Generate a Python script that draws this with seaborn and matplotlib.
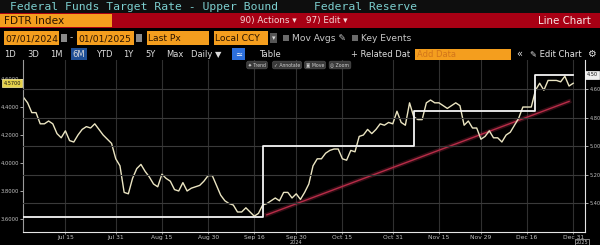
import numpy as np
import pandas as pd
import matplotlib
matplotlib.use("Agg")
import matplotlib.pyplot as plt
import seaborn as sns
from matplotlib.patches import Rectangle
from matplotlib.transforms import blended_transform_factory

# ------------------------------------------------------------------ data
start_date = "2024-07-01"
end_date = "2024-12-31"

# US 10Y yield (left axis), one value per weekday Jul 1 .. Dec 31 2024
ust10y_jul = [4.47, 4.43, 4.36, 4.36, 4.28, 4.28, 4.30, 4.28, 4.21, 4.18, 4.23, 4.16,
              4.15, 4.20, 4.24, 4.26, 4.25, 4.28, 4.24, 4.20, 4.17, 4.14, 4.03]
ust10y_aug = [3.98, 3.79, 3.78, 3.89, 3.96, 3.99, 3.94, 3.90, 3.85, 3.83, 3.92, 3.89,
              3.87, 3.81, 3.80, 3.86, 3.80, 3.82, 3.83, 3.84, 3.87, 3.91]
ust10y_sep = [3.91, 3.84, 3.77, 3.73, 3.71, 3.70, 3.65, 3.65, 3.68, 3.65, 3.62, 3.64,
              3.70, 3.71, 3.73, 3.75, 3.73, 3.79, 3.79, 3.75, 3.78]
ust10y_oct = [3.74, 3.79, 3.85, 3.98, 4.03, 4.03, 4.07, 4.09, 4.10, 4.10, 4.03, 4.02,
              4.09, 4.08, 4.19, 4.20, 4.24, 4.21, 4.24, 4.28, 4.27, 4.29, 4.28]
ust10y_nov = [4.37, 4.29, 4.27, 4.43, 4.33, 4.31, 4.31, 4.43, 4.45, 4.43, 4.43, 4.41,
              4.39, 4.41, 4.43, 4.41, 4.27, 4.30, 4.25, 4.25, 4.17]
ust10y_dec = [4.19, 4.23, 4.18, 4.18, 4.15, 4.20, 4.22, 4.27, 4.32, 4.40, 4.40, 4.40,
              4.52, 4.57, 4.52, 4.59, 4.59, 4.59, 4.58, 4.62, 4.55, 4.57]

# Fed funds target upper bound (right axis, inverted)
fdtr_change_dates = ["2024-07-01", "2024-09-18", "2024-11-07", "2024-12-18"]
fdtr_levels = [5.50, 5.00, 4.75, 4.50]

# hand-drawn trend line (left axis units)
trend_dates = ["2024-09-19", "2024-12-30"]
trend_values = [3.63, 4.44]

tick_dates = ["2024-07-15", "2024-07-31", "2024-08-15", "2024-08-30", "2024-09-16",
              "2024-09-30", "2024-10-15", "2024-10-31", "2024-11-15", "2024-11-29",
              "2024-12-16", "2024-12-31"]
tick_labels = ["Jul 15", "Jul 31", "Aug 15", "Aug 30", "Sep 16", "Sep 30", "Oct 15",
               "Oct 31", "Nov 15", "Nov 29", "Dec 16", "Dec 31"]
left_ticks = [3.6, 3.8, 4.0, 4.2, 4.4, 4.6]
right_ticks = [4.6, 4.8, 5.0, 5.2, 5.4]

# ------------------------------------------------------------------ frame
dates = pd.bdate_range(start_date, end_date)
pos = {d: i for i, d in enumerate(dates)}
ust10y = ust10y_jul + ust10y_aug + ust10y_sep + ust10y_oct + ust10y_nov + ust10y_dec
fdtr = pd.Series(fdtr_levels, index=pd.to_datetime(fdtr_change_dates)).reindex(dates, method="ffill")
df = pd.DataFrame({"x": np.arange(len(dates)), "ust": ust10y, "fdtr": fdtr.values})
trend_df = pd.DataFrame({"x": [pos[pd.Timestamp(d)] for d in trend_dates], "y": trend_values})

W, H = 600, 245
fig = plt.figure(figsize=(W / 100, H / 100), dpi=100, facecolor="black")

# plot area in pixel terms: x 23..585, y 60..232
L, R, T, B = 23, 585, 60, 232
ax = fig.add_axes([L / W, 1 - B / H, (R - L) / W, (B - T) / H])
ax.set_facecolor("black")
ax2 = ax.twinx()
ax2.set_facecolor("none")

GRID = "#3a3a3a"
TXT = "#c4c4c4"

sns.lineplot(data=trend_df, x="x", y="y", ax=ax, color="#c0304e", lw=3.2, alpha=0.25)
sns.lineplot(data=trend_df, x="x", y="y", ax=ax, color="#b82c48", lw=1.0)
sns.lineplot(data=df, x="x", y="ust", ax=ax, color="#ebe5c2", lw=1.0)
sns.lineplot(data=df, x="x", y="fdtr", ax=ax2, color="#f4f4f4", lw=1.3, drawstyle="steps-post")

ax.set_xlim(-0.1, 133.8)
ax.set_ylim(3.507, 4.736)
ax2.set_ylim(5.602, 4.395)

ax.set_xticks([pos[pd.Timestamp(d)] for d in tick_dates])
ax.set_xticklabels(tick_labels)
ax.set_yticks(left_ticks)
ax.set_yticklabels([f"{v:.4f}" for v in left_ticks])
ax2.set_yticks(right_ticks)
ax2.set_yticklabels([f"{v:.2f}" for v in right_ticks])
ax.set_xlabel("")
ax.set_ylabel("")
ax2.set_ylabel("")

ax.xaxis.grid(True, color="#303030", lw=0.8)
ax.yaxis.grid(False)
ax2.yaxis.grid(True, color=GRID, lw=0.8)
ax2.xaxis.grid(False)
ax.set_axisbelow(True)

ax.tick_params(axis="x", colors=TXT, labelsize=4.3, length=1.2, width=0.5, pad=0.8)
ax.tick_params(axis="y", colors=TXT, labelsize=3.8, length=2, width=0.6, pad=1)
ax2.tick_params(axis="y", colors=TXT, labelsize=3.6, length=2, width=0.6, pad=1.5)

for a in (ax, ax2):
    a.spines["top"].set_visible(False)
ax.spines["right"].set_visible(False)
ax.spines["left"].set_color("#9a9a9a")
ax.spines["bottom"].set_color("#e6e6e6")
ax2.spines["left"].set_visible(False)
ax2.spines["bottom"].set_visible(False)
ax2.spines["right"].set_color("#e6e6e6")
for s in ("left", "bottom"):
    ax.spines[s].set_linewidth(0.8)
ax2.spines["right"].set_linewidth(0.8)

# value tags
bl = blended_transform_factory(ax.transAxes, ax.transData)
ax.text(-0.004, ust10y[-1], f"{ust10y[-1]:.4f}", transform=bl, ha="right", va="center",
        fontsize=3.6, color="#111111", clip_on=False, zorder=10,
        bbox=dict(boxstyle="square,pad=0.25", fc="#e6d24a", ec="#fff3a0", lw=0.5))
br = blended_transform_factory(ax2.transAxes, ax2.transData)
ax2.text(1.003, fdtr_levels[-1], f"{fdtr_levels[-1]:.2f}", transform=br, ha="left", va="center",
         fontsize=3.6, color="#111111", clip_on=False, zorder=10,
         bbox=dict(boxstyle="square,pad=0.3", fc="#f0f0f0", ec="#ffffff", lw=0.5))

# year labels under axis
bx = blended_transform_factory(ax.transData, ax.transAxes)
ax.text(pos[pd.Timestamp("2024-09-30")], -0.047, "2024", transform=bx, ha="center", va="top",
        fontsize=3.6, color=TXT, clip_on=False)
ax.text(pos[pd.Timestamp("2024-12-31")] + 2.0, -0.047, "2025", transform=bx, ha="center", va="top",
        fontsize=3.6, color=TXT, clip_on=False,
        bbox=dict(boxstyle="square,pad=0.15", fc="black", ec="#bbbbbb", lw=0.5))

# small toolbar in chart
for cx, lab in [(257, "✦ Trend"), (287, "✓ Annotate"), (315, "▣ Move"), (340, "◎ Zoom")]:
    ax.text((cx - L) / (R - L), 1 - 5 / (B - T), lab, transform=ax.transAxes, ha="center",
            va="center", fontsize=3.3, color="#d0d0d0", zorder=10,
            bbox=dict(boxstyle="round,pad=0.3,rounding_size=0.4", fc="#3a3a3a", ec="#555555", lw=0.4))

# ------------------------------------------------------------------ header
hax = fig.add_axes([0, 1 - 60 / H, 1, 60 / H])
hax.set_xlim(0, 600)
hax.set_ylim(60, 0)
hax.axis("off")


def rect(x0, y0, x1, y1, fc, ec="none", lw=0):
    hax.add_patch(Rectangle((x0, y0), x1 - x0, y1 - y0, facecolor=fc, edgecolor=ec, lw=lw))


ORANGE = "#f49e1e"
DARK = "#2b1400"
rect(0, 0, 600, 13, "#0e0e0e")
rect(0, 13, 600, 28.5, "#a80014")
rect(0, 14, 112, 27.5, ORANGE)

hax.text(10, 7, "Federal Funds Target Rate - Upper Bound", family="DejaVu Sans Mono",
         fontsize=8.2, color="#7ccfcf", va="center", ha="left")
hax.text(314, 7, "Federal Reserve", family="DejaVu Sans Mono",
         fontsize=8.2, color="#7ccfcf", va="center", ha="left")

hax.text(4, 21, "FDTR Index", fontsize=7.6, color=DARK, va="center", ha="left")
hax.text(240, 21, "90) Actions ▾", fontsize=6.3, color="#f6d6d6", va="center", ha="left")
hax.text(306, 21, "97) Edit ▾", fontsize=6.3, color="#f6d6d6", va="center", ha="left")
hax.text(591, 21, "Line Chart", fontsize=7.4, color="#f8e6e6", va="center", ha="right")

# row 3
y3a, y3b = 31, 45
for x0, x1, lab in [(4, 59, "07/01/2024"), (77, 134, "01/01/2025"),
                    (147, 209, "Last Px"), (214, 268, "Local CCY")]:
    rect(x0, y3a, x1, y3b, ORANGE)
    hax.text(x0 + 1, 38.5, lab, fontsize=6.6, color=DARK, va="center", ha="left")
for x0 in (61, 136):
    rect(x0, 34, x0 + 6, 42, "#8a8a8a")
hax.text(71, 38, "-", fontsize=6.5, color="#d0d0d0", va="center", ha="center")
rect(270, 33, 277, 43, "#555555")
hax.text(273.5, 38, "▾", fontsize=5, color="#dddddd", va="center", ha="center")
rect(283, 35, 289, 41, "#6a6a6a")
hax.text(292, 38.5, "Mov Avgs ✎", fontsize=6.6, color="#c8c8c8", va="center", ha="left")
rect(352, 35, 358, 41, "#6a6a6a")
hax.text(361, 38.5, "Key Events", fontsize=6.6, color="#c8c8c8", va="center", ha="left")

# row 4
rect(71, 48, 87, 60, "#1f4f95")
rect(232, 48, 245, 60, "#2c6fdc")
hax.text(238.5, 54, "≃", fontsize=6, color="white", va="center", ha="center")
for cx, lab in [(9.5, "1D"), (33.5, "3D"), (56, "1M"), (79, "6M"), (104.5, "YTD"),
                (128, "1Y"), (151, "5Y"), (175, "Max"), (206.5, "Daily ▼"), (269.5, "Table")]:
    hax.text(cx, 54, lab, fontsize=6.0, color="#dcdcdc", va="center", ha="center")
hax.text(381, 54, "+ Related Dat", fontsize=6.0, color="#dcdcdc", va="center", ha="center")
rect(415, 48.5, 511, 59.5, ORANGE)
hax.text(417, 54, "Add Data", fontsize=6.0, color="#d2751a", va="center", ha="left")
hax.text(519, 54, "«", fontsize=7, color="#dcdcdc", va="center", ha="center")
hax.text(556, 54, "✎ Edit Chart", fontsize=6.0, color="#e6e6e6", va="center", ha="center")
hax.text(591, 54, "⚙", fontsize=7, color="#e6e6e6", va="center", ha="center")

fig.savefig("out.png", dpi=100, facecolor="black")
